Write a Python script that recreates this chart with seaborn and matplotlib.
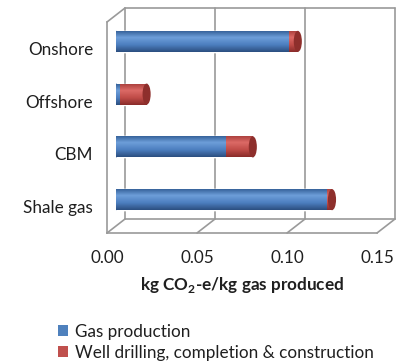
import numpy as np
import pandas as pd
import matplotlib
matplotlib.use("Agg")
import matplotlib.pyplot as plt
from matplotlib.colors import LinearSegmentedColormap
from matplotlib.patches import Ellipse, Patch
import seaborn as sns

# Emissions by gas source (kg CO2-e per kg gas produced)
categories = ["Onshore", "Offshore", "CBM", "Shale gas"]
gas_production = [0.096, 0.002, 0.061, 0.117]
well_drilling = [0.005, 0.015, 0.015, 0.003]
x_ticks = [0.00, 0.05, 0.10, 0.15]
series_names = ["Gas production", "Well drilling, completion & construction"]

sns.set_theme(style="white")
plt.rcParams["font.family"] = ["Lato", "DejaVu Sans"]
plt.rcParams["mathtext.fontset"] = "custom"
plt.rcParams["mathtext.rm"] = "Lato"
plt.rcParams["mathtext.bf"] = "Lato:bold"

W, H = 403, 364
fig = plt.figure(figsize=(W / 100, H / 100), dpi=100)
fig.patch.set_facecolor("white")

# front plane of the 3-D box (in pixels)
fx0, fx1, fy_top, fy_bot = 107, 377, 22, 233
depth_x, depth_y = 18, 14
rect = [fx0 / W, 1 - fy_bot / H, (fx1 - fx0) / W, (fy_bot - fy_top) / H]

def shifted(dx, dy):
    return [rect[0] + dx / W, rect[1] + dy / H, rect[2], rect[3]]

xlim = (0, 0.15)
ylim = (3.5, -0.5)
grey = "#9a9a9a"
text_col = "#1f1f1f"
fs = 12.3

# back wall with gridlines
ax_back = fig.add_axes(shifted(depth_x, depth_y))
ax_back.set_xlim(xlim); ax_back.set_ylim(ylim)
ax_back.axis("off")
for xv in x_ticks:
    ax_back.plot([xv, xv], [ylim[0], ylim[1]], color=grey, lw=1.2, clip_on=False)
ax_back.plot([0, 0.15], [ylim[1], ylim[1]], color=grey, lw=1.2, clip_on=False)
ax_back.plot([0, 0.15], [ylim[0], ylim[0]], color=grey, lw=1.2, clip_on=False)

# front axes: spines, ticks, labels
ax = fig.add_axes(rect)
ax.patch.set_visible(False)
ax.set_xlim(xlim); ax.set_ylim(ylim)
for s in ["top", "right"]:
    ax.spines[s].set_visible(False)
for s in ["left", "bottom"]:
    ax.spines[s].set_color(grey)
    ax.spines[s].set_linewidth(1.2)
ax.set_yticks(range(len(categories)))
ax.set_yticklabels(categories, fontsize=fs, color=text_col)
ax.set_yticks([-0.5, 0.5, 1.5, 2.5, 3.5], minor=True)
ax.tick_params(axis="y", which="major", length=0, pad=10)
ax.tick_params(axis="y", which="minor", length=6, color=grey, width=1.2, direction="out")
ax.set_xticks(x_ticks)
ax.set_xticklabels([f"{v:.2f}" for v in x_ticks], fontsize=fs, color=text_col)
ax.tick_params(axis="x", length=4, color=grey, width=1.2, direction="out", pad=8)
ax.set_xlabel(r"kg CO$_{\mathbf{2}}$-e/kg gas produced", fontsize=fs,
              fontweight="bold", color=text_col, labelpad=7)

# depth connectors of floor and left wall
def connect(xv, yv):
    p0 = ax.transData.transform((xv, yv))
    p1 = p0 + np.array([depth_x, depth_y])
    q0 = fig.transFigure.inverted().transform(p0)
    q1 = fig.transFigure.inverted().transform(p1)
    fig.add_artist(plt.Line2D([q0[0], q1[0]], [q0[1], q1[1]], color=grey, lw=1.2))

for xv in x_ticks:
    connect(xv, ylim[0])
connect(0, ylim[1])

# bars in the middle of the box depth
ax_bar = fig.add_axes(shifted(depth_x / 2, depth_y / 2))
ax_bar.patch.set_visible(False)

df = pd.DataFrame({
    "category": categories,
    "gas": gas_production,
    "total": np.array(gas_production) + np.array(well_drilling),
})
blue, red = "#4f81bd", "#c0504d"
sns.barplot(data=df, x="total", y="category", color=red, width=0.4,
            orient="h", ax=ax_bar, saturation=1)
sns.barplot(data=df, x="gas", y="category", color=blue, width=0.4,
            orient="h", ax=ax_bar, saturation=1)
ax_bar.set_xlim(xlim); ax_bar.set_ylim(ylim)
ax_bar.axis("off")

cmap_blue = LinearSegmentedColormap.from_list(
    "cb", ["#2f5a92", "#6d9ed9", "#4d7fc0", "#2c4f80"])
cmap_red = LinearSegmentedColormap.from_list(
    "cr", ["#a63c39", "#dc6a66", "#c04c48", "#8a2c2a"])
grad = np.linspace(0, 1, 64).reshape(-1, 1)

n = len(categories)
for i, p in enumerate(ax_bar.patches):
    cmap = cmap_red if i < n else cmap_blue
    x0, y0 = p.get_x(), p.get_y()
    w, h = p.get_width(), p.get_height()
    im = ax_bar.imshow(grad, cmap=cmap, aspect="auto",
                       extent=(x0, x0 + w, y0 + h, y0), zorder=2)
    im.set_clip_path(p)

# rounded cylinder ends
cap_w = 0.0045
for i, row in df.iterrows():
    left = Ellipse((0, i), cap_w, 0.4, facecolor="#3f6ca8", edgecolor="none", zorder=1)
    ax_bar.add_patch(left)
    right = Ellipse((row["total"], i), cap_w, 0.4, facecolor="#8e2f2c",
                    edgecolor="none", zorder=3)
    ax_bar.add_patch(right)
ax_bar.set_xlim(xlim); ax_bar.set_ylim(ylim)

handles = [Patch(facecolor=blue, edgecolor="none"), Patch(facecolor=red, edgecolor="none")]
fig.legend(handles, series_names, loc="upper left",
           bbox_to_anchor=(49 / W, 1 - 315 / H), frameon=False, fontsize=fs,
           handlelength=0.6, handleheight=0.6, handletextpad=0.45,
           labelspacing=0.3, borderpad=0, labelcolor=text_col)

fig.savefig("out.png", dpi=100, facecolor="white")
